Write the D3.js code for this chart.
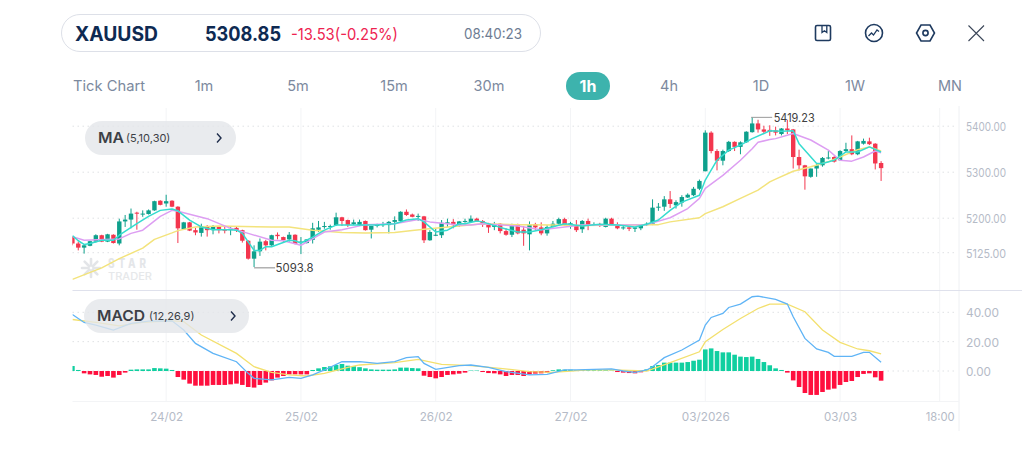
<!DOCTYPE html>
<html>
<head>
<meta charset="utf-8">
<title>XAUUSD 1h</title>
<script src="https://cdn.jsdelivr.net/npm/d3@7/dist/d3.min.js"></script>
<style>
  html, body { margin: 0; padding: 0; background: #fff; }
  svg { display: block; font-family: Inter, "Open Sans", sans-serif; }
</style>
</head>
<body>
<svg id="chart" width="1024" height="471"></svg>
<script>
// Hourly candles, one row per ten bars
const opens = [
  5159,5145,5136,5140,5149,5163,5149,5164,5145,5193,
  5197,5212,5208,5209,5217,5238,5232,5238,5225,5176,
  5191,5174,5168,5183,5174,5181,5175,5174,5179,5174,
  5151,5112,5128,5150,5141,5164,5159,5154,5164,5146,
  5146,5153,5175,5181,5181,5185,5202,5196,5187,5185,
  5194,5175,5183,5185,5185,5192,5194,5214,5208,5203,
  5204,5152,5162,5163,5188,5192,5185,5192,5192,5199,
  5194,5188,5181,5188,5172,5164,5185,5175,5165,5187,
  5180,5167,5181,5188,5198,5187,5185,5176,5194,5185,
  5186,5181,5199,5186,5178,5180,5177,5178,5185,5188,
  5223,5225,5241,5228,5234,5245,5250,5264,5302,5386,
  5346,5325,5346,5366,5355,5365,5387,5406,5393,5392,
  5391,5383,5395,5393,5333,5315,5290,5308,5315,5330,
  5333,5326,5346,5350,5339,5362,5367,5362,5320];
const highs = [
  5161,5149,5143,5151,5165,5164,5166,5165,5199,5207,
  5221,5214,5217,5219,5238,5239,5251,5239,5226,5192,
  5192,5179,5188,5185,5185,5183,5183,5183,5181,5175,
  5152,5141,5156,5153,5164,5169,5160,5170,5165,5159,
  5154,5190,5194,5192,5186,5212,5203,5197,5197,5197,
  5195,5183,5188,5192,5194,5204,5215,5219,5210,5210,
  5205,5174,5177,5196,5199,5198,5194,5199,5206,5201,
  5196,5190,5192,5189,5178,5188,5188,5183,5193,5190,
  5191,5185,5194,5201,5201,5192,5196,5196,5199,5191,
  5190,5201,5201,5191,5183,5183,5181,5187,5191,5241,
  5233,5248,5259,5239,5250,5254,5268,5284,5391,5389,
  5350,5349,5368,5367,5367,5389,5419.23,5414,5401,5402,
  5399,5396,5414,5394,5349,5316,5308,5319,5333,5346,
  5335,5348,5364,5380,5368,5373,5375,5363,5324];
const lows = [
  5141,5130,5123,5139,5147,5148,5148,5145,5141,5181,
  5178,5175,5203,5208,5216,5228,5225,5224,5146,5175,
  5172,5163,5160,5160,5165,5167,5167,5163,5170,5147,
  5110,5093.8,5118,5130,5140,5154,5146,5149,5143,5122,
  5145,5145,5170,5177,5175,5183,5183,5181,5185,5183,
  5173,5156,5180,5181,5167,5174,5192,5205,5202,5194,
  5146,5151,5161,5157,5181,5178,5181,5190,5191,5192,
  5181,5168,5174,5167,5162,5159,5165,5140,5130,5174,
  5163,5162,5180,5186,5183,5177,5170,5168,5174,5183,
  5181,5180,5185,5176,5175,5172,5170,5174,5183,5185,
  5216,5216,5222,5221,5225,5244,5248,5261,5302,5341,
  5304,5315,5344,5346,5339,5364,5386,5386,5384,5379,
  5380,5380,5383,5308,5304,5262,5288,5290,5312,5328,
  5321,5325,5344,5337,5337,5360,5359,5306,5281];
const closes = [
  5145,5136,5141,5150,5163,5149,5165,5146,5193,5197,
  5210,5210,5210,5217,5237,5229,5237,5225,5178,5191,
  5173,5169,5183,5174,5181,5174,5173,5177,5174,5151,
  5112,5128,5149,5141,5163,5161,5152,5164,5144,5149,
  5154,5178,5180,5183,5183,5202,5194,5185,5191,5192,
  5174,5183,5186,5187,5192,5196,5214,5207,5203,5205,
  5152,5170,5164,5190,5191,5185,5193,5194,5199,5194,
  5186,5180,5187,5172,5164,5185,5167,5167,5186,5180,
  5167,5181,5188,5198,5185,5189,5174,5194,5185,5187,
  5183,5199,5187,5178,5180,5177,5180,5185,5188,5223,
  5225,5241,5231,5235,5246,5251,5264,5281,5386,5346,
  5325,5346,5366,5355,5365,5388,5406,5393,5388,5388,
  5386,5395,5391,5333,5315,5291,5308,5315,5331,5332,
  5323,5346,5350,5339,5367,5368,5361,5319,5308.85];

// Moving averages: bar index and price at each vertex
const ma5Bars = [0,1,2,3,5, 7,8,11,13,15, 17,18,20,22,24, 27,28,29,31,32, 33,34,37,38,39, 41,43,45,49,52,
  55,57,59,60,62, 64,66,67,69,70, 73,76,78,80,84, 87,90,93,96,98, 100,102,104,107,108, 110,112,114,116,118,
  119,121,123,124,127, 128,130,132,134,136, 138];
const ma5Values = [5162,5151,5143,5145,5152, 5152,5163,5188,5204,5217, 5220,5216,5196,5181,5175, 5175,5174,5167,5130,5130, 5138,5138,5152,5151,5146, 5159,5174,5185,5185,5185,
  5188,5196,5199,5192,5170, 5174,5188,5188,5194,5192, 5180,5170,5170,5175,5188, 5183,5187,5185,5181,5187, 5196,5217,5235,5250,5283, 5326,5348,5359,5373,5384,
  5390,5389,5390,5362,5319, 5319,5326,5344,5344,5355, 5344];

const ma10Bars = [0,2,8,10,12, 15,17,18,23,27, 30,34,36,39,43, 46,50,55,59,61, 66,68,70,76,80, 84,87,98,102,105,
  107,108,111,114,116, 117,119,120,123,126, 129,131,133,135,137, 138];
const ma10Values = [5160,5152,5155,5167,5174, 5204,5217,5215,5199,5178, 5167,5152,5151,5141,5170, 5175,5186,5188,5197,5192, 5185,5185,5188,5183,5175, 5181,5185,5186,5201,5221,
  5243,5265,5293,5326,5351, 5365,5371,5373,5384,5370, 5348,5326,5324,5333,5346, 5342];

const ma30Bars = [0,5,8,12,14, 17,18,21,25,34, 37,41,46,50,55, 58,60,66,70,76, 82,87,98,100,102,
  107,108,111,114,117, 119,120,123,126,129, 131,134,136,138];
const ma30Values = [5067,5092,5112,5135,5154, 5168,5173,5181,5183,5181, 5181,5174,5169,5168,5169, 5173,5176,5183,5188,5186, 5185,5184,5186,5186,5192,
  5201,5210,5225,5243,5261, 5279,5285,5302,5312,5323, 5333,5349,5355,5346];

// MACD histogram, one value per bar
const macdHist = [
  3.4,0.7,-1.6,-2.3,-2.7,-3.9,-3.4,-4.5,-2.7,-1.1,
  0.9,1.1,1.1,1.1,2.0,1.8,1.6,0.7,-4.1,-5.9,
  -8.6,-10,-10,-10,-9.5,-9.5,-9.5,-9.1,-8.6,-9.5,
  -10.9,-11.3,-9.5,-7.9,-6.4,-4.5,-3.4,-2.3,-2.3,-2.3,
  -2.3,0.7,1.8,2.7,3.2,4.1,4.8,3.6,3.2,2.6,
  1.8,1.1,0.9,0.9,0.9,1.1,2.3,2.3,2.0,1.8,
  -3.2,-4.1,-5,-4.1,-2.7,-2.3,-1.8,-1.1,0.3,0.3,
  -0.7,-1.4,-1.6,-2.3,-3.4,-2.7,-2.7,-3.4,-2.3,-1.8,
  -1.6,-1.1,0.5,1.1,0.9,0.9,0.7,0.7,0.5,0.5,
  0.5,0.5,0.3,-0.7,-1.1,-1.4,-1.6,-0.9,1.1,3.4,
  4.1,5.7,5.7,5.7,5.7,6.1,7,7.7,14.7,15.4,
  13.6,12.7,12.7,11.1,9.8,9.5,9.8,8.2,6.1,3.9,
  1.8,0.7,-1.1,-6.4,-10.9,-15,-16.3,-16.3,-14.3,-12.7,
  -12,-9.5,-7.5,-6.8,-4.1,-2,-1.6,-4.3,-6.6];

const macdBars = [0,2,4,7,10, 13,17,19,21,24, 28,30,31,34,37, 39,41,43,46,49, 52,55,57,59,60,
  62,66,68,71,74, 78,81,84,86,92, 94,96,98,99,101, 104,107,108,109,111, 112,114,116,117,120,
  122,123,125,127,129, 130,133,135,136,138];
const macdValues = [38.5,33.1,31.3,27.9,32.4, 34,34.2,27.9,18.8,12, 6.3,-1.6,-5,-6.1,-4.3, -5,-2.7,0.7,6.3,6.4, 5.2,6.4,9.1,9.8,5.2,
  1.1,3.6,4.1,2.5,-0.4, -2.7,-2.3,0.7,0.7,1.4, 0,-0.9,0.7,2.9,9.1, 14.3,21.1,31.3,36.5,39.2, 43.3,45.6,50.6,51,48.8,
  45.6,37,22.2,15,12.7, 10,10,12.7,12.7,5.9];

const signalBars = [0,4,8,12,17, 19,22,28,31,34, 37,40,43,47,49, 55,59,63,68,73, 78,82,88,92,98,
  102,107,108,111,114, 117,119,122,125,128, 131,134,136,138];
const signalValues = [35.1,33.1,30.8,33.1,34.2, 33.6,24.5,12,2.9,-0.9, -2.7,-3.4,-1.6,2.5,4.1, 5.7,7.9,4.5,3.6,1.8, -0.4,-0.9,0.7,0.7,0,
  5.7,13.1,19.9,28.3,35.8, 42.6,45.6,45.6,40.4,27.9, 19.5,15,13.8,11.6];

// Axis ticks
const priceTicks = [5400, 5300, 5200, 5125];
const macdTicks = [40, 20, 0];
const timeTickBars = [16, 39, 62, 85, 108, 131, 148];
const timeTickLabels = ["24/02", "25/02", "26/02", "27/02", "03/2026", "03/03", "18:00"];
const periods = ["Tick Chart", "1m", "5m", "15m", "30m", "1h", "4h", "1D", "1W", "MN"];
const highLabel = 5419.23;
const lowLabel = 5093.8;

const UP = "#0ea08c", DOWN = "#f3364e", HIST_UP = "#10cfa0", HIST_DOWN = "#ff0f3e";
const NAVY = "#0e2a52", MUTED = "#7c899e", AXIS_TEXT = "#b5bbc7", GRID = "#dfe1e4", VGRID = "#f3f4f6";

const x = d3.scaleLinear().domain([0, 148]).range([72.4, 939.7]);
const yPrice = d3.scaleLinear().domain([5125, 5400]).range([252.7, 126.2]);
const yMacd = d3.scaleLinear().domain([0, 40]).range([371, 312.3]);

const svg = d3.select("#chart");
const LEFT = 72.5, RIGHT = 958.5;

function label(parent, str, px, py, o) {
  return parent.append("text").text(str)
    .attr("x", px).attr("y", py)
    .attr("font-size", o.size).attr("font-weight", o.weight || 400)
    .attr("fill", o.fill).attr("text-anchor", o.anchor || "start")
    .attr("textLength", o.width || null)
    .attr("lengthAdjust", o.width ? "spacingAndGlyphs" : null);
}

// Top bar: symbol, last price and change
const head = svg.append("g");
head.append("rect").attr("x", 61.5).attr("y", 14.5).attr("width", 479).attr("height", 37)
  .attr("rx", 18.5).attr("fill", "#fff").attr("stroke", "#dde0e8").attr("stroke-width", 1);
label(head, "XAUUSD", 75, 41, {size: 20, weight: 700, fill: NAVY, width: 83});
label(head, "5308.85", 205, 41, {size: 20, weight: 700, fill: NAVY, width: 76});
label(head, "-13.53(-0.25%)", 291, 40, {size: 16, fill: "#ee2350", width: 107});
label(head, "08:40:23", 464, 39, {size: 14, fill: "#6e7c92", width: 58});

// Toolbar icons
const icons = svg.append("g").attr("fill", "none").attr("stroke", "#1e3a5f").attr("stroke-width", 1.6);
icons.append("rect").attr("x", 815.5).attr("y", 25.5).attr("width", 15).attr("height", 15).attr("rx", 1.5);
icons.append("path").attr("d", "M822 26v6.5l2.4-1.8 2.4 1.8V26").attr("stroke-width", 1.3);
icons.append("circle").attr("cx", 874).attr("cy", 33).attr("r", 8.5);
icons.append("path").attr("d", "M868.5 36l3-3 2 2 3.5-5 2 1.5").attr("stroke-width", 1.3);
icons.append("path").attr("d", "M921 25h9l4.5 8-4.5 8h-9l-4.5-8z");
icons.append("circle").attr("cx", 925.5).attr("cy", 33).attr("r", 2.6);
icons.append("path").attr("d", "M968.5 25.5l15.5 15.5M984 25.5l-15.5 15.5").attr("stroke", "#3a4658").attr("stroke-width", 1.1);

// Period selector
const periodCenters = [109, 204, 298, 394, 489, 588, 669, 761, 855, 950];
svg.append("rect").attr("x", 566).attr("y", 72).attr("width", 44).attr("height", 28).attr("rx", 14).attr("fill", "#3db3ad");
periods.forEach((p, i) => {
  const active = p === "1h";
  label(svg, p, periodCenters[i], active ? 92 : 90.5, {
    size: active ? 16 : 14.5, weight: active ? 700 : 400,
    fill: active ? "#fff" : MUTED, anchor: "middle",
    width: p === "Tick Chart" ? 72 : null
  });
});

// Grid
const grid = svg.append("g");
timeTickBars.forEach(b => {
  grid.append("line").attr("x1", x(b)).attr("x2", x(b)).attr("y1", 108).attr("y2", 401)
    .attr("stroke", VGRID).attr("stroke-width", 1);
});
grid.append("line").attr("x1", 959).attr("x2", 959).attr("y1", 106).attr("y2", 431).attr("stroke", "#eef0f3");
grid.append("line").attr("x1", LEFT).attr("x2", 959).attr("y1", 401.5).attr("y2", 401.5).attr("stroke", "#f3f4f6");
grid.append("line").attr("x1", LEFT).attr("x2", 1022).attr("y1", 290.5).attr("y2", 290.5).attr("stroke", "#dfe1ec");
priceTicks.forEach(t => {
  grid.append("line").attr("x1", LEFT).attr("x2", 956).attr("y1", yPrice(t)).attr("y2", yPrice(t))
    .attr("stroke", GRID).attr("stroke-dasharray", "1.5 3.5");
});
macdTicks.forEach(t => {
  grid.append("line").attr("x1", LEFT).attr("x2", 956).attr("y1", yMacd(t)).attr("y2", yMacd(t))
    .attr("stroke", GRID).attr("stroke-dasharray", "1.5 3.5");
});

// Brand mark under the candles
const brand = svg.append("g");
const spokes = svg.append("g").attr("stroke", "#e3e5e8").attr("stroke-width", 2.6).attr("stroke-linecap", "round");
d3.range(8).forEach(k => {
  const a = k * Math.PI / 4;
  spokes.append("line")
    .attr("x1", 91 + 2.5 * Math.cos(a)).attr("y1", 268 + 2.5 * Math.sin(a))
    .attr("x2", 91 + 9 * Math.cos(a)).attr("y2", 268 + 9 * Math.sin(a));
});
label(brand, "STAR", 108, 267.5, {size: 12.5, weight: 800, fill: "#e4e6e9", width: 42}).attr("letter-spacing", 5);
label(brand, "TRADER", 108, 279.5, {size: 11, weight: 500, fill: "#e6e8ea", width: 44});

// Clip region for the plotted marks
svg.append("clipPath").attr("id", "plot-clip").append("rect")
  .attr("x", LEFT).attr("y", 100).attr("width", RIGHT - LEFT).attr("height", 310);

const marks = svg.append("g").attr("clip-path", "url(#plot-clip)");

// Candles
const barIdx = d3.range(closes.length);
const candles = marks.append("g");
candles.selectAll("line").data(barIdx).join("line")
  .attr("x1", i => x(i)).attr("x2", i => x(i))
  .attr("y1", i => yPrice(highs[i])).attr("y2", i => yPrice(lows[i]))
  .attr("stroke", i => closes[i] >= opens[i] ? UP : DOWN).attr("stroke-width", 1);
candles.selectAll("rect").data(barIdx).join("rect")
  .attr("x", i => x(i) - 2.2).attr("width", 4.4)
  .attr("y", i => yPrice(Math.max(opens[i], closes[i])))
  .attr("height", i => Math.max(1, Math.abs(yPrice(opens[i]) - yPrice(closes[i]))))
  .attr("fill", i => closes[i] >= opens[i] ? UP : DOWN);

// Moving average overlays
const priceLine = d3.line().x(d => x(d[0])).y(d => yPrice(d[1]));
[[ma30Bars, ma30Values, "#f3e37c"], [ma10Bars, ma10Values, "#dd9ef2"], [ma5Bars, ma5Values, "#35dccf"]]
  .forEach(([bars, vals, col]) => {
    marks.append("path").attr("d", priceLine(d3.zip(bars, vals)))
      .attr("fill", "none").attr("stroke", col).attr("stroke-width", 1.5).attr("stroke-linejoin", "round");
  });

// High and low callouts
const calloutHighBar = highs.indexOf(highLabel), calloutLowBar = lows.indexOf(lowLabel);
svg.append("line").attr("x1", x(calloutHighBar) - 1).attr("x2", x(calloutHighBar) + 20)
  .attr("y1", yPrice(highLabel)).attr("y2", yPrice(highLabel)).attr("stroke", "#9a9a9a");
label(svg, d3.format(".2f")(highLabel), x(calloutHighBar) + 21.5, yPrice(highLabel) + 5, {size: 11.5, fill: "#404040", width: 41});
svg.append("line").attr("x1", x(calloutLowBar)).attr("x2", x(calloutLowBar) + 21)
  .attr("y1", yPrice(lowLabel) + 0.8).attr("y2", yPrice(lowLabel) + 0.8).attr("stroke", "#8a8a8a");
label(svg, String(lowLabel), x(calloutLowBar) + 21.5, yPrice(lowLabel) + 4.5, {size: 11.5, fill: "#404040", width: 38});

// MACD pane
const macdLayer = svg.append("g").attr("clip-path", "url(#plot-clip)");
macdLayer.selectAll("rect").data(barIdx).join("rect")
  .attr("x", i => x(i) - 2.3).attr("width", 4.6)
  .attr("y", i => macdHist[i] >= 0 ? yMacd(macdHist[i]) : yMacd(0))
  .attr("height", i => Math.abs(yMacd(macdHist[i]) - yMacd(0)))
  .attr("fill", i => macdHist[i] >= 0 ? HIST_UP : HIST_DOWN);
const macdLine = d3.line().x(d => x(d[0])).y(d => yMacd(d[1]));
macdLayer.append("path").attr("d", macdLine(d3.zip(signalBars, signalValues)))
  .attr("fill", "none").attr("stroke", "#f3e06e").attr("stroke-width", 1.3);
macdLayer.append("path").attr("d", macdLine(d3.zip(macdBars, macdValues)))
  .attr("fill", "none").attr("stroke", "#5fb4f6").attr("stroke-width", 1.3);

// Axes
function styleAxis(g, widthOf) {
  g.select(".domain").remove();
  g.selectAll(".tick line").remove();
  g.selectAll("text").attr("fill", AXIS_TEXT)
    .attr("font-family", "Inter, sans-serif")
    .attr("textLength", widthOf).attr("lengthAdjust", "spacingAndGlyphs");
}
svg.append("g").attr("transform", "translate(966,1)")
  .call(d3.axisRight(yPrice).tickValues(priceTicks).tickFormat(d3.format(".2f")).tickSize(0).tickPadding(0))
  .call(g => g.attr("font-size", 11.5))
  .call(g => styleAxis(g, 40));
svg.append("g").attr("transform", "translate(966,1)")
  .call(d3.axisRight(yMacd).tickValues(macdTicks).tickFormat(d3.format(".2f")).tickSize(0).tickPadding(0))
  .call(g => g.attr("font-size", 11.5))
  .call(g => styleAxis(g, t => t === 0 ? 25 : 33));
svg.append("g").attr("transform", "translate(0,412.5)")
  .call(d3.axisBottom(x).tickValues(timeTickBars)
    .tickFormat(b => timeTickLabels[timeTickBars.indexOf(b)]).tickSize(0).tickPadding(0))
  .call(g => g.attr("font-size", 11.5))
  .call(g => styleAxis(g, b => b === 108 ? 48 : b === 148 ? 29 : 33));

// Indicator badges, drawn over the grid and the marks
function badge(px, py, w, name, nameWidth, params, paramX, chevronX) {
  const g = svg.append("g");
  g.append("rect").attr("x", px).attr("y", py).attr("width", w).attr("height", 34)
    .attr("rx", 17).attr("fill", "#e4e6ea").attr("fill-opacity", 0.8);
  label(g, name, px + 13, py + 22, {size: 15, weight: 600, fill: "#3c3f46", width: nameWidth});
  label(g, params, paramX, py + 21, {size: 11, fill: "#3c3f46"});
  g.append("path").attr("d", `M${chevronX} ${py + 12.5}l4 4.5-4 4.5`)
    .attr("fill", "none").attr("stroke", "#1e2c4a").attr("stroke-width", 1.4);
}
badge(85, 121, 151, "MA", 26, "(5,10,30)", 126, 217);
badge(84, 299, 165, "MACD", 48, "(12,26,9)", 149, 231);
</script>
</body>
</html>
